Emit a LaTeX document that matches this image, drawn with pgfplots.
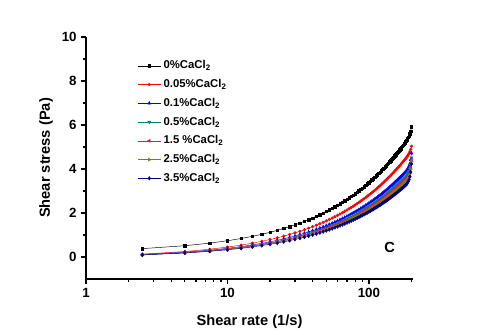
\documentclass[border=0pt]{standalone}
\usepackage{fontspec}
\setmainfont{Liberation Sans}
\usepackage{pgfplots}
\usepackage{pgfplotstable}
\pgfplotsset{compat=1.18}

% shear rate (1/s) and shear stress (Pa) for each CaCl2 content
\pgfplotstableread{
rate  c0    c005  c01   c05   c15   c25   c35
2.5   0.380 0.130 0.117 0.108 0.104 0.100 0.094
5     0.513 0.249 0.220 0.205 0.198 0.191 0.181
7.5   0.630 0.354 0.311 0.290 0.281 0.271 0.257
10    0.739 0.451 0.395 0.369 0.357 0.345 0.328
12.5  0.841 0.542 0.474 0.443 0.429 0.415 0.395
15    0.938 0.629 0.549 0.513 0.498 0.482 0.458
17.5  1.032 0.713 0.621 0.581 0.564 0.546 0.519
20    1.122 0.794 0.691 0.647 0.628 0.608 0.578
22.5  1.210 0.873 0.759 0.711 0.690 0.668 0.636
25    1.296 0.950 0.826 0.773 0.750 0.727 0.692
27.5  1.380 1.024 0.890 0.834 0.809 0.784 0.746
30    1.462 1.098 0.954 0.894 0.867 0.840 0.800
32.5  1.542 1.169 1.016 0.952 0.923 0.895 0.852
35    1.621 1.240 1.077 1.009 0.979 0.949 0.904
37.5  1.698 1.309 1.137 1.065 1.034 1.002 0.954
40    1.774 1.378 1.196 1.121 1.087 1.054 1.004
42.5  1.850 1.445 1.254 1.176 1.141 1.106 1.053
45    1.924 1.512 1.312 1.230 1.193 1.156 1.102
47.5  1.997 1.577 1.368 1.283 1.245 1.207 1.149
50    2.070 1.642 1.424 1.335 1.296 1.256 1.197
52.5  2.141 1.706 1.479 1.387 1.346 1.305 1.243
55    2.212 1.769 1.534 1.438 1.396 1.353 1.289
57.5  2.282 1.832 1.588 1.489 1.445 1.401 1.335
60    2.351 1.893 1.642 1.539 1.494 1.448 1.380
62.5  2.419 1.955 1.695 1.589 1.542 1.495 1.425
65    2.487 2.015 1.747 1.639 1.590 1.542 1.469
67.5  2.555 2.076 1.799 1.687 1.638 1.588 1.513
70    2.621 2.135 1.851 1.736 1.685 1.633 1.557
72.5  2.688 2.195 1.902 1.784 1.731 1.679 1.600
75    2.753 2.253 1.953 1.832 1.778 1.724 1.643
77.5  2.818 2.312 2.003 1.879 1.824 1.768 1.685
80    2.883 2.369 2.053 1.926 1.869 1.812 1.727
82.5  2.947 2.427 2.103 1.972 1.914 1.856 1.769
85    3.011 2.484 2.152 2.019 1.959 1.900 1.811
87.5  3.074 2.540 2.201 2.065 2.004 1.943 1.852
90    3.137 2.597 2.250 2.110 2.048 1.986 1.893
92.5  3.199 2.652 2.298 2.156 2.092 2.029 1.934
95    3.261 2.708 2.346 2.201 2.136 2.071 1.974
97.5  3.323 2.763 2.394 2.246 2.180 2.114 2.015
100   3.384 2.818 2.441 2.290 2.223 2.155 2.055
102.5 3.445 2.872 2.488 2.334 2.266 2.197 2.094
105   3.506 2.927 2.535 2.378 2.308 2.239 2.134
107.5 3.566 2.980 2.582 2.422 2.351 2.280 2.173
110   3.626 3.034 2.628 2.465 2.393 2.321 2.212
112.5 3.685 3.087 2.674 2.509 2.435 2.361 2.251
115   3.745 3.140 2.720 2.552 2.477 2.402 2.290
117.5 3.803 3.193 2.766 2.594 2.518 2.442 2.328
120   3.862 3.246 2.811 2.637 2.560 2.483 2.367
122.5 3.920 3.298 2.856 2.679 2.601 2.522 2.405
125   3.979 3.350 2.901 2.722 2.642 2.562 2.443
127.5 4.036 3.401 2.946 2.764 2.683 2.602 2.480
130   4.094 3.453 2.990 2.805 2.723 2.641 2.518
132.5 4.151 3.504 3.035 2.847 2.764 2.680 2.555
135   4.208 3.555 3.079 2.889 2.804 2.719 2.592
137.5 4.265 3.606 3.123 2.930 2.844 2.758 2.630
140   4.322 3.657 3.167 2.971 2.884 2.797 2.667
142.5 4.378 3.707 3.210 3.012 2.924 2.836 2.703
145   4.434 3.757 3.254 3.053 2.963 2.874 2.740
147.5 4.490 3.807 3.297 3.093 3.003 2.912 2.776
150   4.545 3.857 3.340 3.133 3.042 2.950 2.812
152.5 4.601 3.907 3.383 3.174 3.081 2.988 2.849
155   4.656 3.956 3.425 3.214 3.120 3.026 2.885
157.5 4.711 4.005 3.468 3.254 3.159 3.064 2.921
160   4.766 4.055 3.511 3.294 3.198 3.101 2.957
162.5 4.821 4.103 3.553 3.333 3.236 3.138 2.992
165   4.875 4.152 3.595 3.373 3.274 3.176 3.028
167.5 4.929 4.200 3.637 3.412 3.312 3.213 3.063
170   4.983 4.249 3.678 3.451 3.350 3.250 3.098
172.5 5.037 4.297 3.720 3.491 3.389 3.287 3.133
175   5.091 4.345 3.762 3.530 3.426 3.323 3.168
177.5 5.145 4.393 3.803 3.569 3.464 3.360 3.204
180   5.198 4.441 3.844 3.607 3.502 3.396 3.238
182.5 5.251 4.488 3.885 3.646 3.539 3.433 3.273
185   5.304 4.535 3.926 3.684 3.576 3.469 3.307
187.5 5.369 4.593 3.991 3.748 3.641 3.534 3.374
190   5.434 4.648 4.053 3.810 3.702 3.595 3.435
192.5 5.507 4.710 4.132 3.891 3.783 3.678 3.520
195   5.600 4.786 4.247 4.009 3.903 3.802 3.651
197.5 5.727 4.888 4.423 4.195 4.093 4.001 3.863
200   5.918 5.036 4.719 4.512 4.418 4.344 4.232
}\shear

\definecolor{oteal}{RGB}{0,128,128}
\definecolor{oolive}{RGB}{128,128,0}
\definecolor{onavy}{RGB}{0,0,128}

\begin{document}
\begin{tikzpicture}
\useasboundingbox (-64.5pt,-42pt) rectangle (295.5pt,209.25pt);
\begin{axis}[
    scale only axis,
    width=245.25pt, height=181.5pt,
    xmode=log,
    xmin=1, xmax=205,
    ymin=-1, ymax=10,
    axis lines=left,
    axis line style={-, line width=0.9pt},
    tick align=outside,
    major tick length=3.5pt,
    minor tick length=2pt,
    tick style={black, line width=0.9pt},
    xtick={1,10,100},
    xticklabels={1,10,100},
    minor xtick={2,3,4,5,6,7,8,9,20,30,40,50,60,70,80,90,200},
    ytick={0,2,4,6,8,10},
    yticklabels={0,2,4,6,8,10},
    minor ytick={1,3,5,7,9},
    tick label style={font=\bfseries\fontsize{10}{12}\selectfont},
    label style={font=\bfseries\fontsize{11}{13}\selectfont},
    xlabel={Shear rate (1/s)},
    ylabel={Shear stress (Pa)},
    xlabel style={at={(axis description cs:0.5,-0.175)}, anchor=center},
    ylabel style={at={(axis description cs:-0.122,0.5)}, anchor=center},
    legend style={draw=none, fill=none, at={(axis description cs:0.145,0.925)},
        anchor=north west, font=\bfseries\fontsize{8.5}{10}\selectfont,
        row sep=2.4pt},
    legend cell align=left,
    every axis plot/.append style={line width=0.35pt},
]
\addplot[black, mark=square*, mark size=0.9pt] table[x=rate, y=c0] {\shear};
\addplot[red, mark=*, mark size=1pt] table[x=rate, y=c005] {\shear};
\addplot[blue, mark=triangle*, mark size=1.3pt] table[x=rate, y=c01] {\shear};
\addplot[oteal, mark=triangle*, mark size=1.3pt, mark options={rotate=180}] table[x=rate, y=c05] {\shear};
\addplot[magenta, mark=triangle*, mark size=1.3pt, mark options={rotate=90}] table[x=rate, y=c15] {\shear};
\addplot[oolive, mark=triangle*, mark size=1.3pt, mark options={rotate=-90}] table[x=rate, y=c25] {\shear};
\addplot[onavy, mark=diamond*, mark size=1.3pt] table[x=rate, y=c35] {\shear};
\legend{0\%CaCl\textsubscript{2}, 0.05\%CaCl\textsubscript{2}, 0.1\%CaCl\textsubscript{2},
    0.5\%CaCl\textsubscript{2}, 1.5 \%CaCl\textsubscript{2}, 2.5\%CaCl\textsubscript{2},
    3.5\%CaCl\textsubscript{2}}
\node[font=\bfseries\fontsize{11}{13}\selectfont] at (axis cs:140,0.45) {C};
\end{axis}
\end{tikzpicture}
\end{document}
